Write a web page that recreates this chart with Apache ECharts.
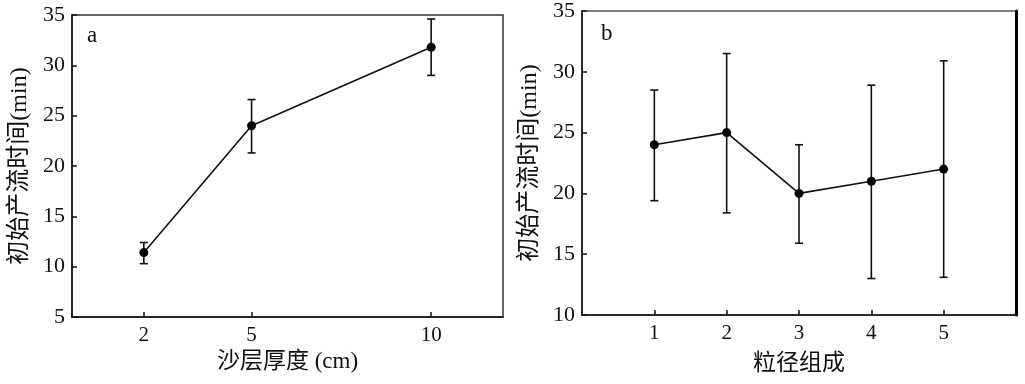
<!DOCTYPE html>
<html><head><meta charset="utf-8">
<script src="https://cdn.jsdelivr.net/npm/echarts@6/dist/echarts.min.js"></script>
<style>html,body{margin:0;padding:0;background:#fff}#c{width:1025px;height:384px}</style>
</head><body><div id="c"></div>
<script>
// Panel a: sand layer thickness
const thicknessX = [2, 5, 10];
const thicknessTicks = [2, 5, 10];
const meanA = [11.4, 24.0, 31.8];
const upperA = [12.4, 26.6, 34.6];
const lowerA = [10.3, 21.3, 29.0];
// Panel b: particle size composition
const gradeX = [1, 2, 3, 4, 5];
const gradeTicks = [1, 2, 3, 4, 5];
const meanB = [24.0, 25.0, 20.0, 21.0, 22.0];
const upperB = [28.5, 31.5, 24.0, 28.9, 30.9];
const lowerB = [19.4, 18.4, 15.9, 13.0, 13.1];
const yTitle = '初始产流时间(min)';
const xTitleA = '沙层厚度 (cm)';
const xTitleB = '粒径组成';

const FONT = "'Liberation Serif', 'Noto Sans CJK SC', serif";
const ink = '#111';

function errSeries(xs, lo, hi, idx) {
  return {
    type: 'custom', xAxisIndex: idx, yAxisIndex: idx, z: 3, silent: true,
    data: xs.map((x, i) => [x, lo[i], hi[i]]),
    renderItem: function (params, api) {
      const x = api.value(0);
      const a = api.coord([x, api.value(1)]);
      const b = api.coord([x, api.value(2)]);
      const w = 4;
      const st = { stroke: ink, lineWidth: 1.6 };
      return { type: 'group', children: [
        { type: 'line', shape: { x1: a[0], y1: a[1], x2: b[0], y2: b[1] }, style: st },
        { type: 'line', shape: { x1: a[0] - w, y1: a[1], x2: a[0] + w, y2: a[1] }, style: st },
        { type: 'line', shape: { x1: b[0] - w, y1: b[1], x2: b[0] + w, y2: b[1] }, style: st }
      ]};
    }
  };
}

function xAx(idx, min, max, ticks, name, gap) {
  return {
    type: 'value', gridIndex: idx, min: min, max: max, interval: 1,
    name: name, nameLocation: 'middle', nameGap: gap,
    nameTextStyle: { fontFamily: FONT, fontSize: 23, color: ink },
    axisLine: { show: true, lineStyle: { color: ink, width: 1.5 } },
    axisTick: { show: true, inside: true, length: 5, customValues: ticks, lineStyle: { color: ink, width: 1.5 } },
    axisLabel: { customValues: ticks, fontFamily: FONT, fontSize: 21, color: ink, margin: 8 },
    splitLine: { show: false }
  };
}
function yAx(idx, min, gap) {
  return {
    type: 'value', gridIndex: idx, min: min, max: 35, interval: 5,
    name: yTitle, nameLocation: 'middle', nameGap: gap, nameRotate: 90,
    nameTextStyle: { fontFamily: FONT, fontSize: 24, color: ink },
    axisLine: { show: true, lineStyle: { color: ink, width: 1.5 } },
    axisTick: { show: true, inside: true, length: 5, lineStyle: { color: ink, width: 1.5 } },
    axisLabel: { fontFamily: FONT, fontSize: 22, color: ink, margin: 7 },
    splitLine: { show: false }
  };
}

const chart = echarts.init(document.getElementById('c'), null, { renderer: 'canvas' });
chart.setOption({
  animation: false,
  backgroundColor: '#fff',
  grid: [
    { left: 72, top: 15, width: 431, height: 302, show: true, borderColor: '#333', borderWidth: 1.5, containLabel: false },
    { left: 582, top: 11, width: 434, height: 304, show: true, borderColor: '#555', borderWidth: 1.5, containLabel: false }
  ],
  xAxis: [
    xAx(0, 0, 12, thicknessTicks, xTitleA, 33),
    xAx(1, 0, 6, gradeTicks, xTitleB, 37)
  ],
  yAxis: [
    yAx(0, 5, 40),
    yAx(1, 10, 40),
    { type: 'value', gridIndex: 1, position: 'right', min: 10, max: 35, interval: 5,
      axisLine: { show: true, lineStyle: { color: '#000', width: 3 } },
      axisTick: { show: false }, axisLabel: { show: false }, splitLine: { show: false } }
  ],
  graphic: [
    { type: 'text', left: 87, top: 24, style: { text: 'a', font: "23px 'Liberation Serif'", fill: ink } },
    { type: 'text', left: 601, top: 22, style: { text: 'b', font: "23px 'Liberation Serif'", fill: ink } }
  ],
  series: [
    { type: 'line', xAxisIndex: 0, yAxisIndex: 0, z: 4, data: thicknessX.map((x, i) => [x, meanA[i]]),
      symbol: 'circle', symbolSize: 9, lineStyle: { color: ink, width: 1.6 }, itemStyle: { color: '#000' } },
    errSeries(thicknessX, lowerA, upperA, 0),
    { type: 'line', xAxisIndex: 1, yAxisIndex: 1, z: 4, data: gradeX.map((x, i) => [x, meanB[i]]),
      symbol: 'circle', symbolSize: 9, lineStyle: { color: ink, width: 1.6 }, itemStyle: { color: '#000' } },
    errSeries(gradeX, lowerB, upperB, 1)
  ]
});
</script></body></html>
